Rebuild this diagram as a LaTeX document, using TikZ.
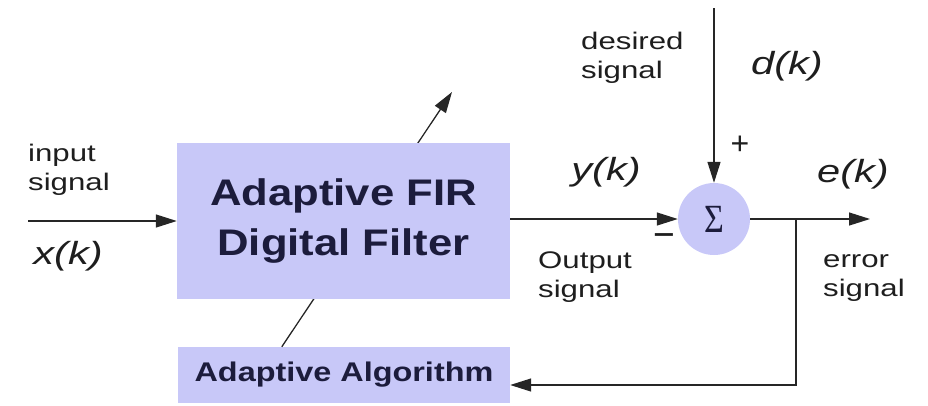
\documentclass[tikz,border=0pt]{standalone}
\usepackage{fontspec}
\setmainfont{Liberation Sans}
\newfontfamily\serifsig{Liberation Serif}
\usetikzlibrary{arrows.meta,calc}
\definecolor{boxfill}{RGB}{200,200,248}
\definecolor{boxtext}{RGB}{28,28,60}
\definecolor{labtext}{RGB}{30,30,30}
\newcommand{\hs}[2][1.2]{\scalebox{#1}[1]{#2}}
\tikzset{
  box/.style={fill=boxfill, draw=none, inner sep=0pt, text=boxtext},
  lab/.style={inner sep=0pt, text=labtext, font=\fontsize{24}{29}\selectfont},
  ilab/.style={inner sep=0pt, text=labtext, font=\fontsize{32}{36}\selectfont\itshape},
  wire/.style={line width=1.3pt, draw=black!85},
  arr/.style={wire, -{Triangle[length=21pt,width=13pt]}}
}
\begin{document}
\begin{tikzpicture}[x=1pt,y=-1pt]
\useasboundingbox (0,0) rectangle (928,405);
% adaptive algorithm box
\node[box, minimum width=332pt, minimum height=56pt,
      font=\fontsize{27}{30}\selectfont\bfseries] (alg) at (344,375)
      {\hs{Adaptive Algorithm}};
% adaptation arrow (behind filter box)
\coordinate (atip) at (452,92);
\draw[arr] ($(alg.north west)+(104,0)$) -- (atip);
% filter box
\node[box, minimum width=333pt, minimum height=156pt, align=center,
      font=\fontsize{37}{50}\selectfont\bfseries] (filt) at (343.5,221)
      {\hs[1.18]{Adaptive FIR}\\\hs[1.18]{Digital Filter}};
% summing junction
\node[box, circle, minimum size=72pt] (sum) at (714,219)
      {\serifsig\fontsize{40}{42}\selectfont\hs[0.85]{Σ}};
% coordinates
\coordinate (xin) at (28,221);
\coordinate (dtop) at (714,8);
\coordinate (eout) at (870,219);
\coordinate (branch) at (796,219);
\coordinate (fbk) at (796,385);
% connectors
\draw[arr] (xin) -- (filt.west |- xin);
\draw[arr] (filt.east |- sum.west) -- (sum.west);
\draw[arr] (dtop) -- (sum.north);
\draw[arr] (sum.east) -- (eout);
\draw[arr] (branch) |- (fbk -| alg.east);
% labels
\node[lab, anchor=west, align=left] (lin) at (28,170) {\hs[1.3]{input}\\\hs[1.3]{signal}};
\node[ilab] (lx) at (68,256) {\hs[1.3]{x(k)}};
\node[ilab] (ly) at (606,172) {\hs[1.3]{y(k)}};
\node[lab, anchor=west, align=left] (lout) at (538,277) {\hs[1.3]{Output}\\\hs[1.3]{signal}};
\node[lab, anchor=west, align=left] (ldes) at (581,58) {\hs[1.3]{desired}\\\hs[1.3]{signal}};
\node[ilab] (ld) at (787,66) {\hs[1.3]{d(k)}};
\node[ilab] (le) at (853,174) {\hs[1.3]{e(k)}};
\node[lab, anchor=west, align=left] (lerr) at (823,278) {\hs[1.3]{error}\\\hs[1.3]{signal}};
\node[lab, font=\fontsize{32}{34}\selectfont] (lplus) at (740,145) {+};
\node[lab, font=\fontsize{28}{30}\selectfont\bfseries] (lminus) at (664,238) {\hs[1.3]{–}};
\end{tikzpicture}
\end{document}
